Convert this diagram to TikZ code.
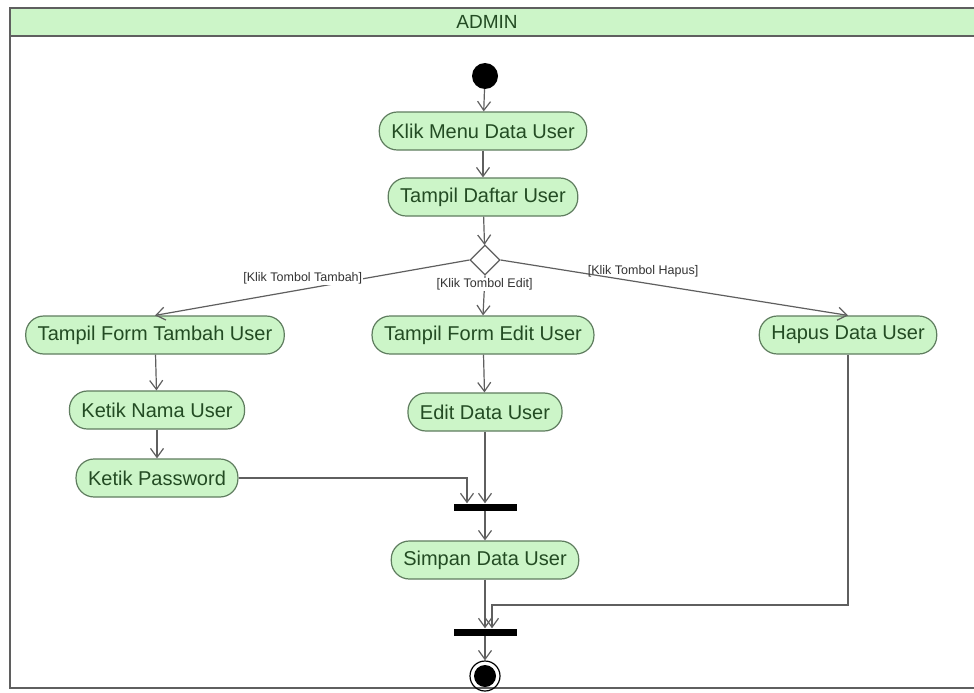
\documentclass[tikz,border=0pt]{standalone}
\usepackage{fontspec}
\setmainfont{Liberation Sans}
\usetikzlibrary{arrows.meta,shapes.geometric}
\definecolor{actfill}{RGB}{204,245,200}
\definecolor{actline}{RGB}{95,125,95}
\definecolor{acttext}{RGB}{35,75,35}
\definecolor{flowline}{RGB}{95,95,95}
\tikzset{
  activity/.style={draw=actline, fill=actfill, text=acttext, rounded corners=18pt, minimum height=38pt, inner xsep=12pt, font=\fontsize{20}{23}\selectfont, line width=1.2pt},
  flow/.style={draw=flowline, line width=1.2pt, -{Straight Barb[length=9pt,width=13pt]}},
  guard/.style={fill=white, inner sep=1pt, font=\fontsize{12.5}{14}\selectfont, text=black!80},
  syncbar/.style={fill=black, minimum width=63pt, minimum height=7pt, inner sep=0pt},
}
\begin{document}
\begin{tikzpicture}[x=1pt,y=-1pt]
  \useasboundingbox (0,0) rectangle (974,693);
  % swimlane
  \draw[flowline, line width=1.2pt, fill=white] (10,8) rectangle (990,688);
  \draw[flowline, line width=1.6pt, fill=actfill] (10,8) rectangle (990,36);
  \node[font=\fontsize{19}{21}\selectfont, text=acttext] (lane) at (487,22) {ADMIN};

  % activities
  \node[circle, fill=black, minimum size=26pt, inner sep=0pt] (start) at (485,76) {};
  \node[activity] (klik) at (483,131) {Klik Menu Data User};
  \node[activity] (daftar) at (483,197) {Tampil Daftar User};
  \node[diamond, draw=flowline, fill=white, line width=1.2pt, minimum width=30pt, minimum height=30pt, inner sep=0pt] (choice) at (485,260) {};
  \node[activity] (tambah) at (155,335) {Tampil Form Tambah User};
  \node[activity] (formedit) at (483,335) {Tampil Form Edit User};
  \node[activity] (hapus) at (848,335) {Hapus Data User};
  \node[activity] (nama) at (157,410) {Ketik Nama User};
  \node[activity] (editdata) at (485,412) {Edit Data User};
  \node[activity] (password) at (157,478) {Ketik Password};
  \node[syncbar] (bar1) at (485,507) {};
  \node[activity] (simpan) at (485,560) {Simpan Data User};
  \node[syncbar] (bar2) at (485,632) {};
  \node[circle, draw=black, line width=1.2pt, minimum size=30pt, inner sep=0pt] (stop) at (485,676) {};
  \node[circle, fill=black, minimum size=22pt, inner sep=0pt] (stopdot) at (stop) {};
  \coordinate (turn) at (492,605);

  % flows
  \draw[flow] (start) -- (klik);
  \draw[flow] (klik) -- (daftar);
  \draw[flow] (daftar) -- (choice);
  \draw[flow] (choice.west) -- node[guard, pos=0.53, yshift=11pt] {[Klik Tombol Tambah]} (tambah.north);
  \draw[flow] (choice.south) -- node[guard, pos=0.22] {[Klik Tombol Edit]} (formedit.north);
  \draw[flow] (choice.east) -- node[guard, fill=none, pos=0.41, yshift=11pt] {[Klik Tombol Hapus]} (hapus.north);
  \draw[flow] (tambah) -- (nama);
  \draw[flow] (nama) -- (password);
  \draw[flow] (formedit) -- (editdata);
  \draw[flow] (password.east) -| ([xshift=-18pt]bar1.north);
  \draw[flow] (editdata) -- (bar1);
  \draw[flow] (bar1) -- (simpan);
  \draw[flow] (simpan) -- (bar2);
  \draw[flow] (hapus.south) |- (turn) -- ([xshift=7pt]bar2.north);
  \draw[flow] (bar2) -- (stop);
\end{tikzpicture}
\end{document}
